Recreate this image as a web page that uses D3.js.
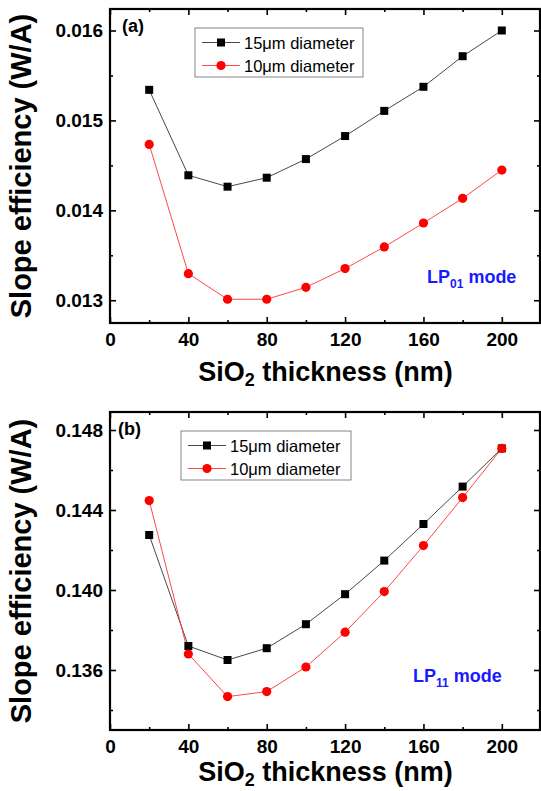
<!DOCTYPE html>
<html><head><meta charset="utf-8">
<script src="https://cdn.jsdelivr.net/npm/d3@7"></script>
<style>body{margin:0;background:#fff}svg{display:block}text{font-family:"Liberation Sans",Arial,sans-serif}</style>
</head><body>
<script>
const thickness = [20, 40, 60, 80, 100, 120, 140, 160, 180, 200];
const lp01_15um = [0.01534, 0.01439, 0.014263, 0.014363, 0.01457, 0.014826, 0.015106, 0.015374, 0.015714, 0.016];
const lp01_10um = [0.014733, 0.013296, 0.013011, 0.013011, 0.013144, 0.013352, 0.013593, 0.013859, 0.014133, 0.014448];
const lp11_15um = [0.14275, 0.1372, 0.1365, 0.13709, 0.13829, 0.13979, 0.14147, 0.1433, 0.14517, 0.14708];
const lp11_10um = [0.14447, 0.1368, 0.13467, 0.13492, 0.13615, 0.13789, 0.13992, 0.14222, 0.14462, 0.14708];
const xTicks = [0, 40, 80, 120, 160, 200];
const xMinor = [20, 60, 100, 140, 180, 220];
const yTicksTop = [0.013, 0.014, 0.015, 0.016];
const yMinorTop = [0.0135, 0.0145, 0.0155];
const yTicksBottom = [0.136, 0.140, 0.144, 0.148];
const yMinorBottom = [0.134, 0.138, 0.142, 0.146];
const seriesNames = ["15\u03bcm diameter", "10\u03bcm diameter"];

const W = 541, H = 791;
const svg = d3.select("body").append("svg").attr("width", W).attr("height", H);

function panel(cfg) {
  const left = 110, right = 541;
  const x = d3.scaleLinear().domain([0, 220]).range([left, right]);
  const y = d3.scaleLinear().domain(cfg.ydom).range([cfg.bottom, cfg.top]);
  const g = svg.append("g");
  const fmt = d3.format(cfg.fmt);

  // series
  const lineGen = d3.line().x((d, i) => x(thickness[i])).y(d => y(d));
  g.append("path").datum(cfg.s1).attr("d", lineGen).attr("fill", "none").attr("stroke", "#333").attr("stroke-width", 0.9);
  g.append("path").datum(cfg.s2).attr("d", lineGen).attr("fill", "none").attr("stroke", "#ff3333").attr("stroke-width", 0.9);
  const sq = 8;
  g.selectAll(".sq").data(cfg.s1).enter().append("rect")
    .attr("x", (d, i) => x(thickness[i]) - sq / 2).attr("y", d => y(d) - sq / 2)
    .attr("width", sq).attr("height", sq).attr("fill", "#000");
  g.selectAll(".ci").data(cfg.s2).enter().append("circle")
    .attr("cx", (d, i) => x(thickness[i])).attr("cy", d => y(d)).attr("r", 4.6).attr("fill", "#ff0000");

  // axes
  const axStyle = sel => { sel.select(".domain").remove(); sel.selectAll("line").attr("stroke", "#000").attr("stroke-width", 1.6); };
  const gb = g.append("g").attr("transform", `translate(0,${cfg.bottom})`)
    .call(d3.axisBottom(x).tickValues(xTicks).tickSizeInner(-6).tickSizeOuter(0).tickPadding(10));
  axStyle(gb);
  gb.selectAll("text").attr("font-size", 19).attr("font-weight", "bold").attr("fill", "#000");
  const gbm = g.append("g").attr("transform", `translate(0,${cfg.bottom})`)
    .call(d3.axisBottom(x).tickValues(xMinor).tickSizeInner(-3).tickSizeOuter(0).tickFormat(""));
  axStyle(gbm);
  const gt = g.append("g").attr("transform", `translate(0,${cfg.top})`)
    .call(d3.axisTop(x).tickValues(xTicks.concat(xMinor)).tickSizeInner(0).tickSizeOuter(0).tickFormat(""));
  gt.select(".domain").remove();
  gt.selectAll(".tick line").attr("y2", d => xTicks.includes(d) ? 6 : 3).attr("stroke", "#000").attr("stroke-width", 1.6);

  const gl = g.append("g").attr("transform", `translate(${left},0)`)
    .call(d3.axisLeft(y).tickValues(cfg.yt).tickSizeInner(-6).tickSizeOuter(0).tickPadding(7).tickFormat(fmt));
  axStyle(gl);
  gl.selectAll("text").attr("font-size", 19).attr("font-weight", "bold").attr("fill", "#000");
  const glm = g.append("g").attr("transform", `translate(${left},0)`)
    .call(d3.axisLeft(y).tickValues(cfg.ym).tickSizeInner(-3).tickSizeOuter(0).tickFormat(""));
  axStyle(glm);
  const gr = g.append("g").attr("transform", `translate(${right - 1},0)`)
    .call(d3.axisRight(y).tickValues(cfg.yt.concat(cfg.ym)).tickSizeInner(0).tickSizeOuter(0).tickFormat(""));
  gr.select(".domain").remove();
  gr.selectAll(".tick line").attr("x2", d => cfg.yt.includes(d) ? -6 : -3).attr("stroke", "#000").attr("stroke-width", 1.6);

  // frame
  g.append("rect").attr("x", left).attr("y", cfg.top).attr("width", right - 1 - left).attr("height", cfg.bottom - cfg.top)
    .attr("fill", "none").attr("stroke", "#000").attr("stroke-width", 2.2);

  // panel label
  g.append("text").attr("x", cfg.tagX).attr("y", cfg.top + 23).attr("font-size", 18).attr("font-weight", "bold").text(cfg.tag);

  // legend
  const lg = g.append("g");
  lg.append("rect").attr("x", cfg.legX).attr("y", cfg.legY).attr("width", cfg.legW).attr("height", 49)
    .attr("fill", "#fff").attr("stroke", "#666").attr("stroke-width", 0.8);
  [0, 1].forEach(k => {
    const cy = cfg.legY + 14.5 + k * 23;
    const col = k === 0 ? "#333" : "#ff3333";
    lg.append("line").attr("x1", cfg.legX + 7).attr("x2", cfg.legX + 45).attr("y1", cy).attr("y2", cy)
      .attr("stroke", col).attr("stroke-width", 0.9);
    if (k === 0) lg.append("rect").attr("x", cfg.legX + 26 - 4).attr("y", cy - 4).attr("width", 8).attr("height", 8).attr("fill", "#000");
    else lg.append("circle").attr("cx", cfg.legX + 26).attr("cy", cy).attr("r", 4.6).attr("fill", "#ff0000");
    lg.append("text").attr("x", cfg.legX + 49).attr("y", cy + 6).attr("font-size", 16.5).text(seriesNames[k]);
  });

  // mode label
  const mt = g.append("text").attr("x", cfg.modeX).attr("y", cfg.modeY).attr("font-size", 18).attr("font-weight", "bold").attr("fill", "#1a1aff");
  mt.append("tspan").text("LP");
  mt.append("tspan").attr("font-size", 12).attr("dy", 5).text(cfg.modeSub);
  mt.append("tspan").attr("dy", -5).text(" mode");

  // axis titles
  const xt = g.append("text").attr("x", (left + right) / 2).attr("y", cfg.titleY).attr("text-anchor", "middle")
    .attr("font-size", 27).attr("font-weight", "bold");
  xt.append("tspan").text("SiO");
  xt.append("tspan").attr("font-size", 18).attr("dy", 5).text("2");
  xt.append("tspan").attr("dy", -5).text(" thickness (nm)");
  g.append("text").attr("transform", `translate(31,${(cfg.top + cfg.bottom) / 2}) rotate(-90)`).attr("text-anchor", "middle")
    .attr("font-size", 29).attr("font-weight", "bold").text("Slope efficiency (W/A)");
}

panel({top: 9, bottom: 323, ydom: [0.012747, 0.016239], yt: yTicksTop, ym: yMinorTop, fmt: ".3f",
  s1: lp01_15um, s2: lp01_10um, tag: "(a)", tagX: 122, legX: 195, legY: 28, legW: 168,
  modeX: 427, modeY: 283, modeSub: "01", titleY: 381});
panel({top: 412, bottom: 730, ydom: [0.133, 0.1489], yt: yTicksBottom, ym: yMinorBottom, fmt: ".3f",
  s1: lp11_15um, s2: lp11_10um, tag: "(b)", tagX: 118, legX: 181, legY: 431, legW: 170,
  modeX: 413, modeY: 682, modeSub: "11", titleY: 781});
</script>
</body></html>
